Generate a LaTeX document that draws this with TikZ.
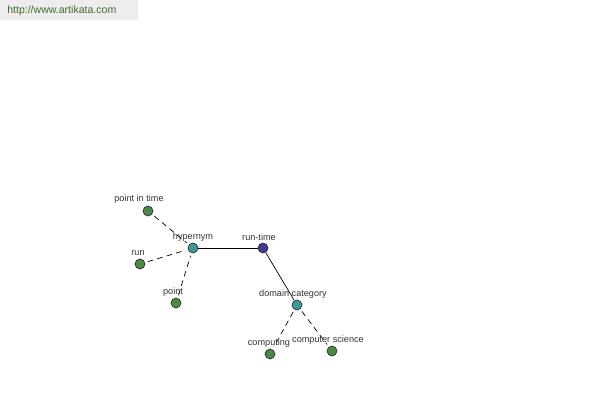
\documentclass[tikz,border=0pt]{standalone}
\usepackage{fontspec}
\setmainfont{Liberation Sans}
\definecolor{leafgreen}{HTML}{4A8A44}
\definecolor{hubteal}{HTML}{3A9A9E}
\definecolor{rootblue}{HTML}{3C3C96}
\definecolor{sitegreen}{HTML}{3F6B2A}
\definecolor{labelgray}{HTML}{333333}

\tikzset{
  dot/.style={circle,draw=black!80,inner sep=0pt,minimum size=10*0.025cm,line width=0.5pt},
  leaf/.style={dot,fill=leafgreen},
  hub/.style={dot,fill=hubteal},
  root/.style={dot,fill=rootblue},
  word/.style={text=labelgray,font=\fontsize{6.5}{7}\selectfont,inner sep=0pt},
  rel/.style={black,line width=0.5pt},
  syn/.style={black,line width=0.5pt,dash pattern=on 4pt off 3pt,shorten <=2pt,shorten >=2pt}
}

\begin{document}
\begin{tikzpicture}[x=0.025cm,y=-0.025cm]
\useasboundingbox (0,0) rectangle (600,400);
\fill[white] (0,0) rectangle (600,400);

% site banner
\fill[black!7] (0,0) rectangle (138,20);
\node[text=sitegreen,font=\fontsize{7.5}{8}\selectfont,anchor=west,inner sep=0pt] (site) at (7,11) {http://www.artikata.com};

% nodes
\node[root] (runtime) at (263,248) {};
\node[hub]  (hypernym) at (193,248) {};
\node[hub]  (domcat) at (297,305) {};
\node[leaf] (pit) at (148,211) {};
\node[leaf] (run) at (140,264) {};
\node[leaf] (point) at (176,303) {};
\node[leaf] (computing) at (270,354) {};
\node[leaf] (compsci) at (332,351) {};

% connectors
\draw[rel] (hypernym) -- (runtime);
\draw[rel] (runtime) -- (domcat);
\draw[syn] (pit) -- (hypernym);
\draw[syn] (run) -- (hypernym);
\draw[syn] (point) -- (hypernym);
\draw[syn] (domcat) -- (computing);
\draw[syn] (domcat) -- (compsci);

% labels
\node[word] (pitlabel) at (139,199) {point in time};
\node[word] (hyplabel) at (193,237) {hypernym};
\node[word] (rtlabel) at (259,237) {run-time};
\node[word] (runlabel) at (138,253) {run};
\node[word] (pointlabel) at (173,292) {point};
\node[word] (dclabel) at (293,294) {domain category};
\node[word] (cmplabel) at (269,343) {computing};
\node[word] (cslabel) at (328,340) {computer science};
\end{tikzpicture}
\end{document}
